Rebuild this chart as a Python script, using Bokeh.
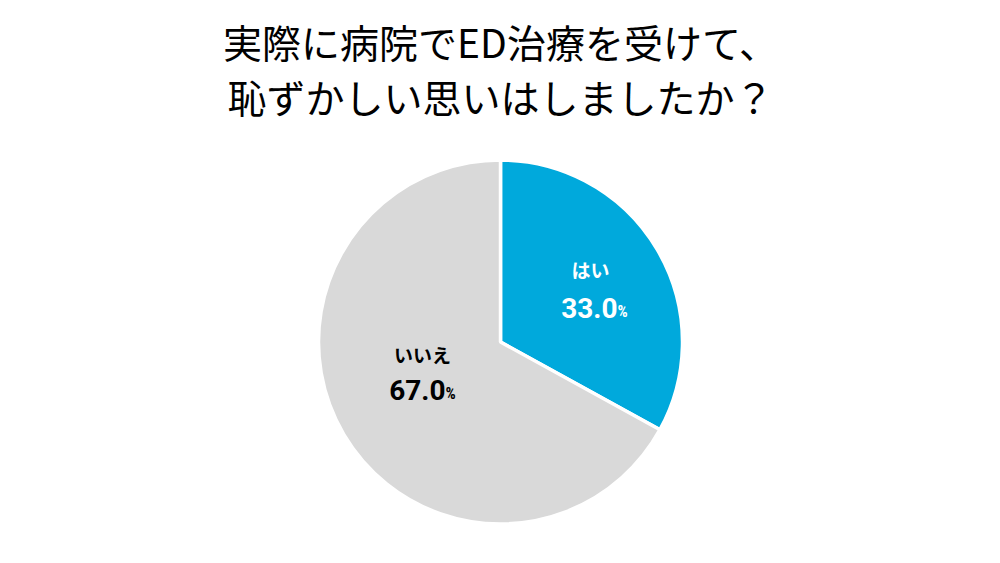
import math
from bokeh.plotting import figure
from bokeh.models import Range1d, ColumnDataSource
from bokeh.core.properties import value
from bokeh.embed import file_html
from bokeh.resources import INLINE

title_lines = ["実際に病院でED治療を受けて、", "恥ずかしい思いはしましたか？"]
categories = ["はい", "いいえ"]
values = [33.0, 67.0]
colors = ["#00A9DC", "#D9D9D9"]
label_colors = ["#FFFFFF", "#000000"]

W, H = 984, 547
def X(px):
    return px
def Y(py):
    return H - py

p = figure(width=W, height=H, output_backend="svg", toolbar_location=None,
           x_range=Range1d(0, W), y_range=Range1d(0, H), min_border=0)
p.axis.visible = False
p.grid.visible = False
p.outline_line_color = None
p.background_fill_color = "#FFFFFF"

cx, cy, R = X(500), Y(341.5), 182
total = sum(values)
starts, ends = [], []
acc = 0.0
for v in values:
    a0 = math.pi / 2 - acc / total * 2 * math.pi
    acc += v
    a1 = math.pi / 2 - acc / total * 2 * math.pi
    starts.append(a0)
    ends.append(a1)

src = ColumnDataSource(dict(start=starts, end=ends, color=colors))
p.wedge(x=cx, y=cy, radius=R, start_angle="start", end_angle="end",
        direction="clock", fill_color="color", line_color="#FFFFFF",
        line_width=3.5, source=src)

# title
for i, t in enumerate(title_lines):
    p.text(x=[X(500)], y=[Y(40 + i * 55)], text=[t], text_align="center",
           text_baseline="middle", text_font=value("Noto Sans CJK JP"),
           text_font_size="39px", text_font_style="normal", text_color="#000000")

# labels
name_pos = [(590, 269), (422, 354)]
num_pos = [(617, 307), (445, 389)]
for i, c in enumerate(categories):
    nx, ny = name_pos[i]
    p.text(x=[X(nx)], y=[Y(ny)], text=[c], text_align="center",
           text_baseline="middle", text_font=value("Noto Sans CJK JP"),
           text_font_size="19px", text_font_style="bold", text_color=label_colors[i])
    mx, my = num_pos[i]
    p.text(x=[X(mx)], y=[Y(my)], text=[f"{values[i]:.1f}"], text_align="right",
           text_baseline="middle", text_font=value("Roboto"),
           text_font_size="28px", text_font_style="bold", text_color=label_colors[i])
    p.text(x=[X(mx)], y=[Y(my + 4)], text=["%"], text_align="left",
           text_baseline="middle", text_font=value("Roboto Condensed"),
           text_font_size="16px", text_font_style="bold", text_color=label_colors[i])

open("out.html", "w").write(file_html(p, INLINE))
